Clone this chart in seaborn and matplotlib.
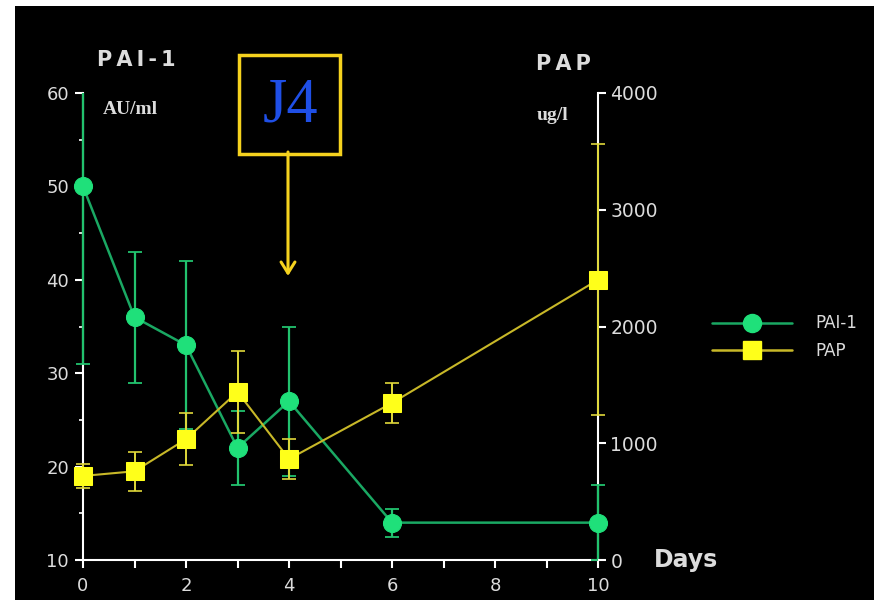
import numpy as np
import pandas as pd
import matplotlib
matplotlib.use("Agg")
import matplotlib.pyplot as plt
from matplotlib.patches import Rectangle, FancyArrowPatch
from matplotlib.lines import Line2D
import seaborn as sns

# ---- data ----
days = [0, 1, 2, 3, 4, 6, 10]
pai1 = [50, 36, 33, 22, 27, 14, 14]          # AU/ml (left axis)
pai1_err = [19, 7, 9, 4, 8, 1.5, 4]
pap = [720, 760, 1035, 1440, 865, 1345, 2400]  # ug/l (right axis)
pap_err = [100, 165, 220, 350, 170, 170, 1160]
x_ticks = list(range(0, 11))
x_labels = ["0", "", "2", "", "4", "", "6", "", "8", "", "10"]
left_ticks = [10, 20, 30, 40, 50, 60]
right_ticks = [0, 1000, 2000, 3000, 4000]

W, H = 874, 600
def fx(x):
    return x / W
def fy(y):
    return 1 - y / H

sns.set_style("dark")
plt.rcParams["font.family"] = ["DejaVu Sans"]

fig = plt.figure(figsize=(W / 100, H / 100), dpi=100, facecolor="white")
fig.patches.append(Rectangle((fx(15), 0), 1, fy(6), transform=fig.transFigure,
                             facecolor="black", edgecolor="none", zorder=-10))

ax = fig.add_axes([fx(83), fy(560), fx(598) - fx(83), fy(93) - fy(560)])
ax.set_facecolor("none")
ax2 = ax.twinx()
ax2.set_facecolor("none")

GREEN_M = "#1fe07a"
GREEN_L = "#1aa863"
YEL_M = "#ffff1a"
YEL_L = "#c8b828"
TXT = "#dcdcdc"

df = pd.DataFrame({"day": days, "pai1": pai1, "pai1_err": pai1_err,
                   "pap": pap, "pap_err": pap_err})


def widen_clip(container, axes):
    clip = Rectangle((-0.03, 0), 1.06, 1, transform=axes.transAxes)
    for art in container.get_children():
        art.set_clip_path(clip)


# PAI-1 (left axis)
eb1 = ax.errorbar(df["day"], df["pai1"], yerr=df["pai1_err"], fmt="none",
                  ecolor="#22c26e", elinewidth=1.6, capsize=5, capthick=1.3,
                  zorder=3)
widen_clip(eb1, ax)
sns.lineplot(data=df, x="day", y="pai1", ax=ax, color=GREEN_L, linewidth=1.8,
             marker="o", markersize=13, markerfacecolor=GREEN_M,
             markeredgecolor=GREEN_M, legend=False, zorder=4)
for ln in ax.lines:
    if ln.get_marker() == "o":
        ln.set_clip_on(False)

# PAP (right axis)
eb2 = ax2.errorbar(df["day"], df["pap"], yerr=df["pap_err"], fmt="none",
                   ecolor="#e0d83a", elinewidth=1.4, capsize=5, capthick=1.2,
                   zorder=3)
widen_clip(eb2, ax2)
sns.lineplot(data=df, x="day", y="pap", ax=ax2, color=YEL_L, linewidth=1.5,
             marker="s", markersize=13, markerfacecolor=YEL_M,
             markeredgecolor=YEL_M, legend=False, zorder=4)
for ln in ax2.lines:
    if ln.get_marker() == "s":
        ln.set_clip_on(False)

ax.set_xlim(0, 10)
ax.set_ylim(10, 60)
ax2.set_ylim(0, 4000)

# spines: draw all on primary axes (below series)
ax.spines["top"].set_visible(False)
for s in ["left", "bottom", "right"]:
    ax.spines[s].set_visible(True)
    ax.spines[s].set_color("white")
    ax.spines[s].set_linewidth(1.5)
for s in ax2.spines.values():
    s.set_visible(False)

ax.set_xticks(x_ticks)
ax.set_xticklabels(x_labels)
ax.set_yticks(left_ticks)
ax.set_yticks([15, 25, 35, 45, 55], minor=True)
ax2.set_yticks(right_ticks)
ax.tick_params(axis="both", which="major", direction="out", length=6, width=1.5,
               color="white", labelcolor=TXT, labelsize=13, pad=4)
ax.tick_params(axis="y", which="minor", direction="out", length=3, width=1.2,
               color="white", left=True)
ax.tick_params(axis="x", pad=6, bottom=True)
ax.tick_params(axis="y", left=True, right=False)
ax2.tick_params(axis="y", direction="out", length=6, width=1.5, color="white",
                labelcolor=TXT, labelsize=13.5, pad=3, right=True, left=False)
ax.set_xlabel("")
ax.set_ylabel("")
ax2.set_ylabel("")
ax.grid(False)
ax2.grid(False)

# texts
thin = "\u2009"
fig.text(fx(97), fy(60), thin.join("PAI-1"), color=TXT, fontsize=15,
         fontweight="bold", va="center", ha="left")
fig.text(fx(536), fy(64), thin.join("PAP"), color=TXT, fontsize=15,
         fontweight="bold", va="center", ha="left")
fig.text(fx(103), fy(109), "AU/ml", color=TXT, fontsize=14, fontweight="bold",
         family="Liberation Serif", va="center", ha="left")
fig.text(fx(537), fy(116), "ug/l", color=TXT, fontsize=14, fontweight="bold",
         family="Liberation Serif", va="center", ha="left")
fig.text(fx(654), fy(560), "Days", color=TXT, fontsize=17, fontweight="bold",
         va="center", ha="left")

# J4 box and arrow
BOXC = "#f5d21e"
fig.patches.append(Rectangle((fx(239), fy(154)), fx(340) - fx(239), fy(55) - fy(154),
                             transform=fig.transFigure, facecolor="black",
                             edgecolor=BOXC, linewidth=2.5, zorder=5))
fig.text(fx(290), fy(106), "J4", color="#1f4fe6", fontsize=45,
         family="Liberation Serif", va="center", ha="center", zorder=6)
fig.add_artist(FancyArrowPatch(
    (fx(288), fy(152)), (fx(288), fy(276)), transform=fig.transFigure,
    arrowstyle="->,head_length=8,head_width=5", color=BOXC, linewidth=2.2,
    mutation_scale=1, shrinkA=0, shrinkB=0, zorder=6))

# legend
handles = [Line2D([0], [0], color=GREEN_L, lw=1.8, marker="o", markersize=13,
                  markerfacecolor=GREEN_M, markeredgecolor=GREEN_M),
           Line2D([0], [0], color=YEL_L, lw=1.8, marker="s", markersize=13,
                  markerfacecolor=YEL_M, markeredgecolor=YEL_M)]
leg = fig.legend(handles, ["PAI-1", "PAP"], loc="center left",
                 bbox_to_anchor=(fx(700), fy(337)), frameon=False,
                 fontsize=12, handlelength=4.8, handletextpad=1.4,
                 labelspacing=0.55, borderpad=0.2)
for t in leg.get_texts():
    t.set_color(TXT)

fig.savefig("out.png", dpi=100, facecolor="white")
